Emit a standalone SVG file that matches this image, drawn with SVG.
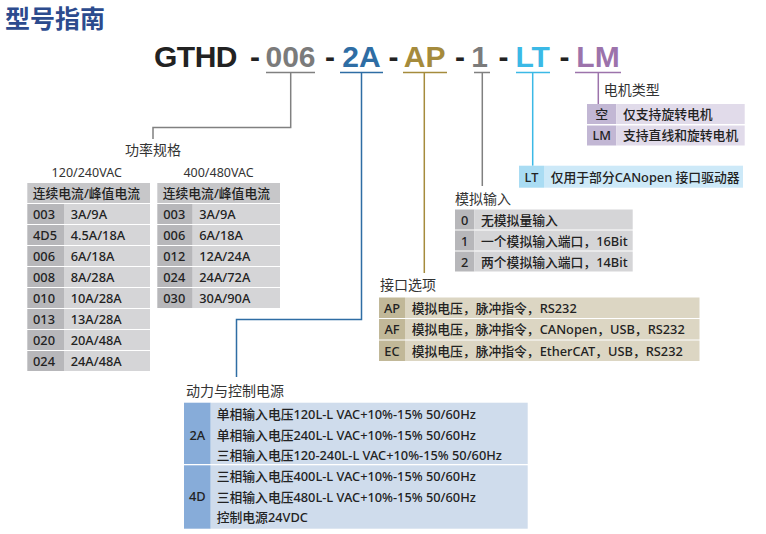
<svg xmlns="http://www.w3.org/2000/svg" width="766" height="534" viewBox="0 0 766 534">
<style>
.code{font-family:"Liberation Sans",Arial,sans-serif;font-weight:bold;font-size:30px;text-anchor:middle}
.lbl{font-family:"Noto Sans","Noto Sans CJK SC",sans-serif;font-size:14px;fill:#333}
.sub{font-family:"Noto Sans","Noto Sans CJK SC",sans-serif;font-size:12.5px;fill:#333;text-anchor:middle}
.t{font-family:"Noto Sans","Noto Sans CJK SC",sans-serif;font-size:12.8px;font-weight:500;fill:#222}
.c{text-anchor:middle}
.ln{fill:none;stroke-width:1.5}
.g1{fill:#b7b7ba}.g2{fill:#d5d5d7}.gh{fill:#c7c7c9}
.p1{fill:#c2b7d4}.p2{fill:#e1dbea}
.b1{fill:#a9dcf3}.b2{fill:#cde9f8}
.y1{fill:#c1b898}.y2{fill:#dcd6c3}
.d1{fill:#87acd9}.d2{fill:#cfdcec}
</style>
<text id="title" x="5" y="28" font-family="'Noto Sans CJK SC',sans-serif" font-weight="bold" font-size="25" fill="#2c4b8e">型号指南</text>
<g id="model-code">
<text class="code" x="195.5" y="67" fill="#222" letter-spacing="-0.5">GTHD</text>
<text class="code" x="255" y="67" fill="#222">-</text>
<text class="code" x="290.5" y="67" fill="#7b7b7b">006</text>
<text class="code" x="330" y="67" fill="#222">-</text>
<text class="code" x="361.5" y="67" fill="#2e6da4">2A</text>
<text class="code" x="393.5" y="67" fill="#222">-</text>
<text class="code" x="424.7" y="67" fill="#a58b3c">AP</text>
<text class="code" x="460" y="67" fill="#222">-</text>
<text class="code" x="479.5" y="67" fill="#7b7b7b">1</text>
<text class="code" x="503.5" y="67" fill="#222">-</text>
<text class="code" x="532.7" y="67" fill="#3bb9e6">LT</text>
<text class="code" x="564.5" y="67" fill="#222">-</text>
<text class="code" x="598" y="67" fill="#9c73ab">LM</text>
</g>
<g id="connectors">
<path class="ln" stroke="#808080" d="M266 72.5H315M290.7 72.5V127.5H153V139"/>
<path class="ln" stroke="#2e6da4" d="M340 72.5H383M361.5 72.5V319.5H236.5V377"/>
<path class="ln" stroke="#a58b3c" d="M403 72.5H447M424.3 72.5V273"/>
<path class="ln" stroke="#808080" d="M474 72.5H490M482.3 72.5V186"/>
<path class="ln" stroke="#3bb9e6" d="M516 72.5H550M532.7 72.5V165.7"/>
<path class="ln" stroke="#9c73ab" d="M575 72.5H621M598.3 72.5V104"/>
</g>
<g id="motor-type">
<text class="lbl" x="603.7" y="95">电机类型</text>
<rect class="p1" x="587" y="104" width="29.3" height="20"/><rect class="p2" x="616.3" y="104" width="128.4" height="20"/>
<rect class="p1" x="587" y="125.5" width="29.3" height="20"/><rect class="p2" x="616.3" y="125.5" width="128.4" height="20"/>
<text class="t c" x="601.7" y="118.5">空</text><text class="t" x="623" y="118.5">仅支持旋转电机</text>
<text class="t c" x="601.7" y="140">LM</text><text class="t" x="623" y="140">支持直线和旋转电机</text>
</g>
<g id="lt-option">
<rect class="b1" x="519" y="165.7" width="25" height="22"/><rect class="b2" x="544" y="165.7" width="199" height="22"/>
<text class="t c" x="531.5" y="181.5">LT</text><text class="t" x="550.7" y="181.5">仅用于部分CANopen 接口驱动器</text>
</g>
<g id="power-spec">
<text class="lbl" x="125" y="155">功率规格</text>
<text class="sub" x="86.7" y="177">120/240VAC</text>
<text class="sub" x="218.5" y="177">400/480VAC</text>
</g>
<g id="table-240">
<rect class="gh" x="27.3" y="183" width="122.7" height="20"/>
<text class="t" x="32.7" y="198">连续电流/峰值电流</text>
<rect class="g1" x="27.3" y="204" width="36.7" height="20"/><rect class="g2" x="64" y="204" width="86" height="20"/>
<rect class="g1" x="27.3" y="225" width="36.7" height="20"/><rect class="g2" x="64" y="225" width="86" height="20"/>
<rect class="g1" x="27.3" y="246" width="36.7" height="20"/><rect class="g2" x="64" y="246" width="86" height="20"/>
<rect class="g1" x="27.3" y="267" width="36.7" height="20"/><rect class="g2" x="64" y="267" width="86" height="20"/>
<rect class="g1" x="27.3" y="288" width="36.7" height="20"/><rect class="g2" x="64" y="288" width="86" height="20"/>
<rect class="g1" x="27.3" y="309" width="36.7" height="20"/><rect class="g2" x="64" y="309" width="86" height="20"/>
<rect class="g1" x="27.3" y="330" width="36.7" height="20"/><rect class="g2" x="64" y="330" width="86" height="20"/>
<rect class="g1" x="27.3" y="351" width="36.7" height="20"/><rect class="g2" x="64" y="351" width="86" height="20"/>
<text class="t" x="33" y="219">003</text><text class="t" x="70.7" y="219">3A/9A</text>
<text class="t" x="33" y="240">4D5</text><text class="t" x="70.7" y="240">4.5A/18A</text>
<text class="t" x="33" y="261">006</text><text class="t" x="70.7" y="261">6A/18A</text>
<text class="t" x="33" y="282">008</text><text class="t" x="70.7" y="282">8A/28A</text>
<text class="t" x="33" y="303">010</text><text class="t" x="70.7" y="303">10A/28A</text>
<text class="t" x="33" y="324">013</text><text class="t" x="70.7" y="324">13A/28A</text>
<text class="t" x="33" y="345">020</text><text class="t" x="70.7" y="345">20A/48A</text>
<text class="t" x="33" y="366">024</text><text class="t" x="70.7" y="366">24A/48A</text>
</g>
<g id="table-480">
<rect class="gh" x="157.3" y="183" width="122.7" height="20"/>
<text class="t" x="162.7" y="198">连续电流/峰值电流</text>
<rect class="g1" x="157.3" y="204" width="35.4" height="20"/><rect class="g2" x="192.7" y="204" width="87.3" height="20"/>
<rect class="g1" x="157.3" y="225" width="35.4" height="20"/><rect class="g2" x="192.7" y="225" width="87.3" height="20"/>
<rect class="g1" x="157.3" y="246" width="35.4" height="20"/><rect class="g2" x="192.7" y="246" width="87.3" height="20"/>
<rect class="g1" x="157.3" y="267" width="35.4" height="20"/><rect class="g2" x="192.7" y="267" width="87.3" height="20"/>
<rect class="g1" x="157.3" y="288" width="35.4" height="20"/><rect class="g2" x="192.7" y="288" width="87.3" height="20"/>
<text class="t" x="163.3" y="219">003</text><text class="t" x="199.3" y="219">3A/9A</text>
<text class="t" x="163.3" y="240">006</text><text class="t" x="199.3" y="240">6A/18A</text>
<text class="t" x="163.3" y="261">012</text><text class="t" x="199.3" y="261">12A/24A</text>
<text class="t" x="163.3" y="282">024</text><text class="t" x="199.3" y="282">24A/72A</text>
<text class="t" x="163.3" y="303">030</text><text class="t" x="199.3" y="303">30A/90A</text>
</g>
<g id="analog-input">
<text class="lbl" x="455" y="203.5">模拟输入</text>
<rect class="g1" x="455" y="209.5" width="19.3" height="20"/><rect class="g2" x="474.3" y="209.5" width="158.4" height="20"/>
<rect class="g1" x="455" y="230.5" width="19.3" height="20"/><rect class="g2" x="474.3" y="230.5" width="158.4" height="20"/>
<rect class="g1" x="455" y="251.5" width="19.3" height="20"/><rect class="g2" x="474.3" y="251.5" width="158.4" height="20"/>
<text class="t c" x="464.7" y="224.5">0</text><text class="t" x="481" y="224.5">无模拟量输入</text>
<text class="t c" x="464.7" y="245.5">1</text><text class="t" x="481" y="245.5">一个模拟输入端口，16Bit</text>
<text class="t c" x="464.7" y="266.5">2</text><text class="t" x="481" y="266.5">两个模拟输入端口，14Bit</text>
</g>
<g id="interface-option">
<text class="lbl" x="380" y="290">接口选项</text>
<rect class="y1" x="379" y="297.5" width="26" height="20.5"/><rect class="y2" x="405" y="297.5" width="294.5" height="20.5"/>
<rect class="y1" x="379" y="319" width="26" height="20.5"/><rect class="y2" x="405" y="319" width="294.5" height="20.5"/>
<rect class="y1" x="379" y="340.5" width="26" height="20.5"/><rect class="y2" x="405" y="340.5" width="294.5" height="20.5"/>
<text class="t c" x="392" y="312.5">AP</text><text class="t" x="411.7" y="312.5">模拟电压，脉冲指令，RS232</text>
<text class="t c" x="392" y="334">AF</text><text class="t" x="411.7" y="334">模拟电压，脉冲指令，CANopen，USB，RS232</text>
<text class="t c" x="392" y="355.5">EC</text><text class="t" x="411.7" y="355.5">模拟电压，脉冲指令，EtherCAT，USB，RS232</text>
</g>
<g id="power-supply">
<text class="lbl" x="186" y="396">动力与控制电源</text>
<rect class="d1" x="184" y="402.7" width="26.7" height="61.3"/><rect class="d2" x="210.7" y="402.7" width="317" height="61.3"/>
<rect class="d1" x="184" y="465.3" width="26.7" height="63.4"/><rect class="d2" x="210.7" y="465.3" width="317" height="63.4"/>
<text class="t c" x="197.3" y="439.5">2A</text>
<text class="t" x="216.7" y="419">单相输入电压120L-L VAC+10%-15% 50/60Hz</text>
<text class="t" x="216.7" y="439.5">单相输入电压240L-L VAC+10%-15% 50/60Hz</text>
<text class="t" x="216.7" y="460">三相输入电压120-240L-L VAC+10%-15% 50/60Hz</text>
<text class="t c" x="197.3" y="501">4D</text>
<text class="t" x="216.7" y="481">三相输入电压400L-L VAC+10%-15% 50/60Hz</text>
<text class="t" x="216.7" y="501.5">三相输入电压480L-L VAC+10%-15% 50/60Hz</text>
<text class="t" x="216.7" y="522">控制电源24VDC</text>
</g>
</svg>
